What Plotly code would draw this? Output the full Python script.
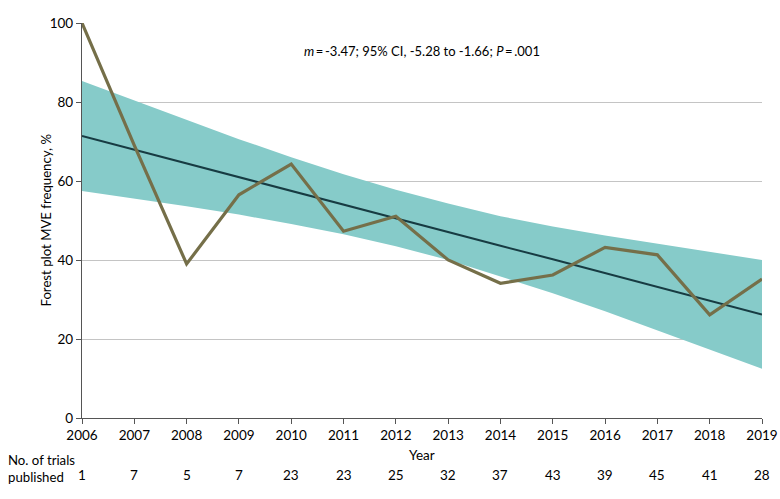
import plotly.graph_objects as go

years = list(range(2006, 2020))
mve_freq = [100, 69, 39, 56.5, 64.3, 47.3, 51.1, 40, 34.1, 36.2, 43.2, 41.3, 26.1, 35.2]
fit_line = [71.4, 67.9, 64.5, 61.0, 57.5, 54.0, 50.6, 47.1, 43.6, 40.2, 36.7, 33.2, 29.8, 26.2]
ci_upper = [85.3, 80.4, 75.4, 70.6, 66.0, 61.7, 57.8, 54.3, 51.1, 48.5, 46.2, 44.1, 42.0, 40.0]
ci_lower = [57.5, 55.6, 53.6, 51.5, 49.1, 46.5, 43.5, 40.0, 35.9, 31.6, 27.0, 22.2, 17.4, 12.5]
n_trials = [1, 7, 5, 7, 23, 23, 25, 32, 37, 43, 39, 45, 41, 28]
y_ticks = [0, 20, 40, 60, 80, 100]

FONT = "Lato"
TXT = "#000000"

fig = go.Figure()
fig.add_trace(go.Scatter(x=years, y=ci_lower, mode="lines", line=dict(width=0),
                         showlegend=False, hoverinfo="skip"))
fig.add_trace(go.Scatter(x=years, y=ci_upper, mode="lines", line=dict(width=0),
                         fill="tonexty", fillcolor="#86CBC9", showlegend=False, hoverinfo="skip"))
fig.add_trace(go.Scatter(x=years, y=fit_line, mode="lines",
                         line=dict(color="#173B42", width=2), showlegend=False))
fig.add_trace(go.Scatter(x=years, y=mve_freq, mode="lines",
                         line=dict(color="#756F49", width=3.2), showlegend=False))

fig.update_layout(
    width=780, height=499,
    margin=dict(l=82, r=18, t=23, b=81, autoexpand=False),
    paper_bgcolor="white", plot_bgcolor="white",
    font=dict(family=FONT, size=13.5, color=TXT),
    showlegend=False,
)
fig.update_xaxes(range=[2006, 2019], tickmode="array", tickvals=years,
                 ticktext=[str(y) for y in years], automargin=False,
                 showgrid=False, zeroline=False,
                 showline=True, linecolor="#555555", linewidth=1.3,
                 ticks="outside", ticklen=5, tickcolor="#555555",
                 tickfont=dict(family=FONT, size=13.5, color=TXT))
fig.update_yaxes(range=[0, 100], tickmode="array", tickvals=y_ticks, automargin=False,
                 showgrid=True, gridcolor="#C4C4C4", gridwidth=1.3, zeroline=False,
                 showline=True, linecolor="#555555", linewidth=1.3,
                 ticks="outside", ticklen=5, tickcolor="#555555",
                 tickfont=dict(family=FONT, size=13.5, color=TXT))

# plot area: 680 px wide, 395 px tall
W, H = 680.0, 395.0
ann = []
ann.append(dict(text="<i>m</i>\u2009=\u2009-3.47; 95% CI, -5.28 to -1.66; <i>P</i>\u2009=\u2009.001",
                xref="paper", yref="y", x=0.5, y=92.8, showarrow=False,
                xanchor="center", yanchor="middle", font=dict(size=13)))
ann.append(dict(text="Forest plot MVE frequency, %", xref="paper", yref="paper",
                x=-37 / W, y=0.5, textangle=-90, showarrow=False,
                xanchor="center", yanchor="middle", font=dict(size=13.2)))
ann.append(dict(text="Year", xref="paper", yref="paper", x=0.5, y=-37 / H,
                showarrow=False, xanchor="center", yanchor="middle", font=dict(size=13.5)))
ann.append(dict(text="No. of trials<br>published", xref="paper", yref="paper",
                x=-76 / W, y=-50 / H, showarrow=False, xanchor="left", yanchor="middle",
                align="left", font=dict(size=13.2)))
for yr, n in zip(years, n_trials):
    ann.append(dict(text=str(n), xref="x", yref="paper", x=yr, y=-57 / H,
                    showarrow=False, xanchor="center", yanchor="middle",
                    font=dict(size=13.5)))
fig.update_layout(annotations=ann)

fig.write_html("out.html", config={"displayModeBar": False},
               post_script="document.body.style.margin='0px';document.body.style.overflow='hidden';")
